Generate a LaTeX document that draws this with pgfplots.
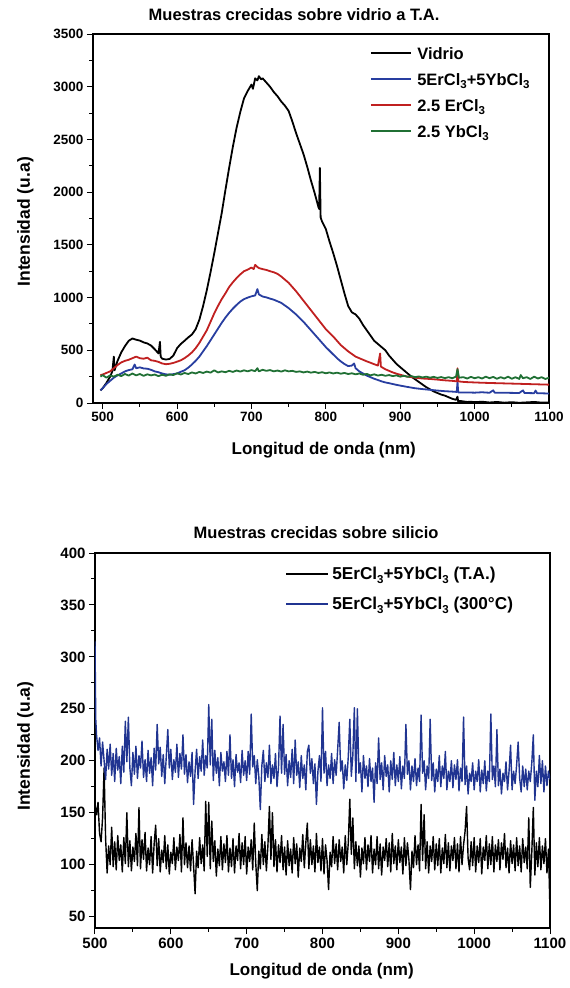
\documentclass[border=0pt]{standalone}
\usepackage{fontspec}
\setmainfont{Liberation Sans}
\usepackage{pgfplots}
\pgfplotsset{compat=1.18}
\definecolor{cblue}{RGB}{40,62,160}
\definecolor{cblue2}{RGB}{32,52,145}
\definecolor{cred}{RGB}{192,32,32}
\definecolor{cgreen}{RGB}{32,112,52}
\newcommand{\sub}[1]{\raisebox{-3.5pt}{\fontsize{11.5}{12}\selectfont #1}}
\pgfplotsset{
  base/.style={
    scale only axis,
    axis line style={line width=1.3pt},
    tick style={line width=1pt, black},
    tick align=outside,
    xtick pos=lower, ytick pos=left,
    major tick length=6pt, minor tick length=3.5pt,
    minor x tick num=1, minor y tick num=1,
    /pgf/number format/assume math mode=true,
    /pgf/number format/1000 sep={},
    legend cell align=left,
    no markers,
    every axis plot/.append style={line join=round},
  },
  legA/.style={legend image code/.code={\draw[##1] (0pt,0pt) -- (40pt,0pt);}},
  legB/.style={legend image code/.code={\draw[##1] (0pt,0pt) -- (42pt,0pt);}},
}
\begin{document}
\begin{tikzpicture}
\useasboundingbox (-93pt,403pt) rectangle (477pt,-585pt);
% ---------------- top axis ----------------
\begin{axis}[base, legA,
  at={(0pt,0pt)}, anchor=south west,
  width=456pt, height=369pt,
  xmin=487, xmax=1100, ymin=0, ymax=3500,
  xtick={500,600,...,1100}, ytick={0,500,...,3500},
  tick label style={font=\bfseries\fontsize{13.5}{16}\selectfont},
  title={Muestras crecidas sobre vidrio a T.A.},
  title style={at={([yshift=8pt]axis description cs:0.441,1)}, anchor=base, font=\bfseries\fontsize{16.5}{18}\selectfont},
  xlabel={Longitud de onda (nm)},
  xlabel style={at={([yshift=-51pt]axis description cs:0.506,0)}, anchor=base, font=\bfseries\fontsize{17}{19}\selectfont},
  ylabel={Intensidad (u.a)},
  ylabel style={at={([xshift=-63pt]axis description cs:0,0.491)}, anchor=base, font=\bfseries\fontsize{17.5}{19}\selectfont},
  legend style={draw=none, fill=none, inner sep=0pt, at={(0.607,0.9715)}, anchor=north west,
    font=\bfseries\fontsize{16.5}{18}\selectfont, row sep=9pt, column sep=4pt,
    nodes={inner sep=1.5pt, text height=13pt, text depth=1pt}},
]
\addplot[black, line width=1.8pt] coordinates {(497,120)(500,140)(505,190)(510,250)(513,300)(515,440)(516,310)(520,400)(525,480)(530,540)(535,590)(540,612)(545,600)(550,592)(555,575)(560,565)(565,545)(570,510)(575,470)(577,580)(578,440)(580,420)(585,412)(590,418)(595,450)(600,520)(605,560)(610,590)(615,622)(620,650)(625,700)(630,790)(635,920)(640,1070)(645,1240)(650,1420)(655,1610)(660,1800)(665,2020)(670,2230)(675,2430)(680,2610)(685,2760)(690,2890)(695,2960)(700,3020)(702,2980)(705,3080)(708,3060)(710,3100)(713,3070)(715,3080)(720,3040)(725,3000)(730,2950)(735,2910)(740,2860)(745,2820)(750,2770)(755,2670)(760,2560)(765,2460)(770,2360)(775,2240)(780,2110)(785,1990)(790,1860)(791,1840)(792,2230)(793,1760)(795,1720)(800,1650)(805,1530)(810,1420)(815,1300)(820,1170)(825,1040)(830,920)(835,860)(840,840)(845,800)(850,740)(855,690)(860,640)(865,590)(870,560)(875,530)(880,500)(885,450)(890,410)(895,370)(900,340)(905,310)(910,280)(915,250)(920,225)(925,200)(930,175)(935,150)(940,130)(945,110)(950,95)(955,80)(960,70)(965,55)(970,40)(975,30)(977,60)(978,10)(980,20)(985,15)(990,10)(995,12)(1000,8)(1010,12)(1020,5)(1030,10)(1040,3)(1050,8)(1060,2)(1070,6)(1080,10)(1090,4)(1100,5)};
\addlegendentry{Vidrio}
\addplot[cblue, line width=1.8pt] coordinates {(497,120)(500,140)(505,180)(510,210)(515,240)(520,262)(525,280)(530,300)(535,312)(540,320)(543,365)(545,330)(550,338)(555,328)(560,325)(565,315)(570,300)(575,292)(580,280)(585,272)(590,268)(595,274)(600,280)(605,296)(610,310)(615,335)(620,365)(625,400)(630,440)(635,490)(640,540)(645,595)(650,650)(655,705)(660,760)(665,810)(670,855)(675,895)(680,930)(685,962)(690,985)(695,1000)(700,1012)(705,1020)(708,1080)(710,1030)(715,1010)(720,1002)(725,990)(730,980)(735,965)(740,950)(745,925)(750,900)(755,870)(760,840)(765,805)(770,770)(775,730)(780,690)(785,650)(790,610)(795,570)(800,530)(805,495)(810,460)(815,425)(820,395)(825,370)(830,350)(835,355)(838,375)(840,330)(845,300)(850,280)(855,260)(860,245)(865,230)(870,218)(875,205)(880,195)(885,188)(890,180)(895,172)(900,165)(910,152)(920,140)(930,132)(940,125)(950,118)(960,112)(970,108)(976,105)(977,200)(978,100)(990,100)(1000,98)(1010,102)(1020,97)(1025,120)(1027,98)(1040,97)(1050,96)(1060,95)(1065,120)(1067,95)(1080,93)(1082,118)(1084,92)(1090,92)(1100,90)};
\addlegendentry{5ErCl\sub{3}+5YbCl\sub{3}}
\addplot[cred, line width=1.8pt] coordinates {(497,265)(500,270)(505,285)(510,300)(515,330)(520,360)(525,385)(530,400)(535,410)(540,425)(545,440)(550,425)(555,420)(560,430)(565,405)(570,400)(575,390)(580,375)(585,368)(590,372)(595,380)(600,392)(605,405)(610,425)(615,450)(620,480)(625,520)(630,570)(635,630)(640,690)(645,770)(650,850)(655,920)(660,985)(665,1040)(670,1100)(675,1145)(680,1185)(685,1220)(690,1250)(695,1265)(700,1285)(703,1270)(705,1310)(708,1290)(710,1280)(715,1270)(720,1262)(725,1250)(730,1240)(735,1225)(740,1200)(745,1170)(750,1140)(755,1100)(760,1060)(765,1015)(770,970)(775,925)(780,880)(785,835)(790,790)(795,745)(800,700)(805,665)(810,630)(815,590)(820,550)(825,520)(830,490)(835,465)(840,440)(845,425)(850,410)(855,395)(860,382)(865,368)(870,355)(873,470)(874,345)(880,320)(885,305)(890,290)(895,278)(900,268)(905,258)(910,250)(915,245)(920,240)(930,232)(940,228)(950,222)(960,215)(970,210)(976,205)(977,330)(978,205)(985,200)(990,198)(1000,195)(1010,192)(1020,190)(1030,188)(1040,186)(1050,184)(1060,182)(1070,180)(1080,178)(1090,176)(1100,174)};
\addlegendentry{2.5 ErCl\sub{3}}
\addplot[cgreen, line width=1.8pt] coordinates {(497,250)(500,265)(505,240)(510,262)(515,250)(520,268)(525,255)(530,275)(535,260)(540,280)(545,262)(550,275)(555,258)(560,272)(565,262)(570,270)(575,255)(580,268)(585,258)(590,272)(595,265)(600,282)(605,270)(610,285)(615,275)(620,290)(625,280)(630,295)(635,285)(640,298)(645,288)(650,310)(655,290)(660,300)(665,292)(670,305)(675,295)(680,308)(685,298)(690,310)(695,300)(700,312)(705,302)(708,330)(710,300)(715,315)(720,305)(725,312)(730,300)(735,308)(740,298)(745,310)(750,300)(755,305)(760,295)(765,300)(770,290)(775,298)(780,288)(785,295)(790,285)(795,292)(800,282)(805,290)(810,280)(815,288)(820,278)(825,285)(830,275)(835,282)(840,272)(845,280)(850,268)(855,276)(860,262)(865,272)(870,260)(875,268)(880,258)(885,265)(890,255)(895,262)(900,250)(905,258)(910,248)(915,255)(920,245)(925,252)(930,242)(935,250)(940,240)(945,248)(950,238)(955,246)(960,236)(965,245)(970,235)(975,250)(977,320)(979,240)(985,245)(990,232)(995,248)(1000,235)(1005,245)(1010,232)(1015,250)(1020,235)(1025,248)(1030,230)(1035,245)(1040,232)(1045,250)(1050,230)(1055,245)(1060,228)(1062,265)(1065,235)(1070,245)(1075,228)(1080,250)(1085,232)(1090,245)(1095,228)(1100,240)};
\addlegendentry{2.5 YbCl\sub{3}}
\end{axis}
% ---------------- bottom axis ----------------
\begin{axis}[base, legB,
  at={(2pt,-525pt)}, anchor=south west,
  width=455pt, height=375pt,
  xmin=500, xmax=1100, ymin=39, ymax=400,
  xtick={500,600,...,1100}, ytick={50,100,...,400},
  tick label style={font=\bfseries\fontsize{15}{17}\selectfont},
  title={Muestras crecidas sobre silicio},
  title style={at={([yshift=9pt]axis description cs:0.486,1)}, anchor=base, font=\bfseries\fontsize{16.5}{18}\selectfont},
  xlabel={Longitud de onda (nm)},
  xlabel style={at={([yshift=-47pt]axis description cs:0.498,0)}, anchor=base, font=\bfseries\fontsize{17}{19}\selectfont},
  ylabel={Intensidad (u.a)},
  ylabel style={at={([xshift=-65pt]axis description cs:0,0.485)}, anchor=base, font=\bfseries\fontsize{17.5}{19}\selectfont},
  legend style={draw=none, fill=none, inner sep=0pt, at={(0.418,0.9677)}, anchor=north west,
    font=\bfseries\fontsize{17.2}{19}\selectfont, row sep=13pt, column sep=2pt,
    nodes={inner sep=1.5pt, text height=13pt, text depth=1pt}},
]
\addplot[black, line width=1.4pt] coordinates {(500,158)(502,148)(504,160)(506,130)(508,122)(510,145)(512,193)(514,125)(516,92)(518,118)(520,100)(522,136)(524,98)(526,122)(528,95)(530,128)(532,104)(534,119)(536,93)(538,126)(540,101)(542,150)(544,98)(546,123)(548,94)(550,117)(552,103)(554,130)(556,99)(558,155)(560,96)(562,124)(564,105)(566,131)(568,94)(570,116)(572,100)(574,127)(576,92)(578,120)(580,138)(582,99)(584,125)(586,93)(588,114)(590,102)(592,128)(594,96)(596,119)(598,91)(600,112)(602,101)(604,126)(606,95)(608,117)(610,104)(612,129)(614,93)(616,145)(618,100)(620,121)(622,97)(624,118)(626,94)(628,124)(630,99)(632,72)(634,113)(636,97)(638,126)(640,101)(642,119)(644,94)(646,161)(648,108)(650,160)(652,96)(654,142)(656,103)(658,123)(660,89)(662,115)(664,99)(666,127)(668,95)(670,120)(672,102)(674,128)(676,93)(678,116)(680,98)(682,125)(684,92)(686,118)(688,104)(690,130)(692,96)(694,121)(696,100)(698,127)(700,91)(702,117)(704,103)(706,124)(708,95)(710,140)(712,101)(714,75)(716,113)(718,96)(720,129)(722,100)(724,122)(726,94)(728,118)(730,156)(732,105)(734,150)(736,98)(738,124)(740,93)(742,119)(744,102)(746,128)(748,95)(750,117)(752,90)(754,123)(756,99)(758,115)(760,92)(762,126)(764,101)(766,120)(768,88)(770,116)(772,103)(774,129)(776,97)(778,121)(780,140)(782,96)(784,124)(786,100)(788,118)(790,93)(792,130)(794,102)(796,117)(798,94)(800,125)(802,91)(804,119)(806,104)(808,76)(810,112)(812,98)(814,127)(816,101)(818,120)(820,95)(822,124)(824,103)(826,117)(828,92)(830,128)(832,100)(834,121)(836,163)(838,110)(840,145)(842,96)(844,122)(846,99)(848,118)(850,88)(852,116)(854,101)(856,126)(858,95)(860,119)(862,103)(864,128)(866,92)(868,115)(870,100)(872,127)(874,96)(876,120)(878,90)(880,117)(882,104)(884,125)(886,98)(888,121)(890,93)(892,130)(894,101)(896,118)(898,95)(900,124)(902,102)(904,117)(906,91)(908,126)(910,99)(912,121)(914,104)(916,76)(918,113)(920,97)(922,128)(924,100)(926,119)(928,94)(930,158)(932,104)(934,148)(936,96)(938,122)(940,92)(942,118)(944,103)(946,127)(948,95)(950,120)(952,99)(954,125)(956,92)(958,116)(960,101)(962,129)(964,97)(966,121)(968,94)(970,118)(972,104)(974,126)(976,96)(978,120)(980,93)(982,127)(984,100)(986,119)(988,132)(990,156)(992,106)(994,95)(996,122)(998,99)(1000,126)(1002,93)(1004,118)(1006,102)(1008,125)(1010,91)(1012,117)(1014,104)(1016,128)(1018,96)(1020,120)(1022,100)(1024,127)(1026,93)(1028,119)(1030,103)(1032,124)(1034,95)(1036,121)(1038,105)(1040,130)(1042,97)(1044,116)(1046,92)(1048,123)(1050,101)(1052,119)(1054,94)(1056,126)(1058,99)(1060,118)(1062,93)(1064,125)(1066,102)(1068,117)(1070,96)(1072,145)(1074,78)(1076,112)(1078,155)(1080,90)(1082,121)(1084,98)(1086,126)(1088,95)(1090,118)(1092,101)(1094,125)(1096,92)(1098,115)(1100,55)};
\addlegendentry{5ErCl\sub{3}+5YbCl\sub{3} (T.A.)}
\addplot[cblue2, line width=1.4pt] coordinates {(500,315)(501,240)(502,225)(504,210)(506,222)(508,195)(510,218)(512,200)(514,182)(516,211)(518,192)(520,216)(522,186)(524,207)(526,180)(528,212)(530,191)(532,204)(534,178)(536,214)(538,189)(540,238)(542,199)(544,242)(546,193)(548,176)(550,208)(552,187)(554,214)(556,183)(558,205)(560,193)(562,219)(564,184)(566,201)(568,180)(570,210)(572,188)(574,203)(576,176)(578,212)(580,191)(582,235)(584,197)(586,213)(588,185)(590,206)(592,178)(594,204)(596,230)(598,193)(600,211)(602,182)(604,201)(606,189)(608,216)(610,184)(612,207)(614,192)(616,225)(618,187)(620,206)(622,179)(624,199)(626,185)(628,208)(630,158)(632,190)(634,211)(636,183)(638,204)(640,190)(642,220)(644,186)(646,205)(648,193)(650,254)(652,196)(654,240)(656,181)(658,210)(660,188)(662,203)(664,176)(666,208)(668,190)(670,199)(672,180)(674,209)(676,186)(678,225)(680,183)(682,201)(684,175)(686,206)(688,189)(690,198)(692,179)(694,210)(696,186)(698,200)(700,181)(702,209)(704,187)(706,245)(708,194)(710,205)(712,178)(714,201)(716,185)(718,153)(720,195)(722,210)(724,180)(726,198)(728,184)(730,215)(732,178)(734,196)(736,183)(738,207)(740,175)(742,194)(744,243)(746,188)(748,235)(750,187)(752,206)(754,176)(756,200)(758,184)(760,211)(762,178)(764,220)(766,186)(768,199)(770,174)(772,205)(774,183)(776,196)(778,172)(780,209)(782,215)(784,188)(786,202)(788,178)(790,197)(792,158)(794,190)(796,205)(798,180)(800,251)(802,188)(804,209)(806,176)(808,196)(810,183)(812,207)(814,178)(816,201)(818,186)(820,211)(822,237)(824,190)(826,200)(828,173)(830,196)(832,181)(834,204)(836,240)(838,185)(840,205)(842,251)(844,180)(846,250)(848,188)(850,198)(852,170)(854,205)(856,183)(858,195)(860,175)(862,202)(864,180)(866,193)(868,160)(870,198)(872,178)(874,222)(876,182)(878,198)(880,172)(882,205)(884,185)(886,196)(888,170)(890,200)(892,182)(894,208)(896,176)(898,196)(900,180)(902,204)(904,173)(906,195)(908,183)(910,235)(912,187)(914,200)(916,172)(918,195)(920,180)(922,202)(924,176)(926,193)(928,180)(930,244)(932,188)(934,200)(936,172)(938,195)(940,183)(942,240)(944,181)(946,198)(948,170)(950,192)(952,180)(954,205)(956,175)(958,195)(960,183)(962,209)(964,172)(966,190)(968,180)(970,200)(972,174)(974,196)(976,182)(978,201)(980,171)(982,193)(984,180)(986,242)(988,177)(990,195)(992,168)(994,188)(996,180)(998,198)(1000,172)(1002,190)(1004,180)(1006,201)(1008,170)(1010,191)(1012,178)(1014,200)(1016,171)(1018,190)(1020,180)(1022,245)(1024,182)(1026,195)(1028,175)(1030,230)(1032,176)(1034,192)(1036,168)(1038,188)(1040,180)(1042,199)(1044,172)(1046,190)(1048,215)(1050,172)(1052,190)(1054,178)(1056,196)(1058,218)(1060,183)(1062,170)(1064,195)(1066,175)(1068,192)(1070,172)(1072,190)(1074,180)(1076,198)(1078,225)(1080,162)(1082,190)(1084,175)(1086,205)(1088,178)(1090,200)(1092,170)(1094,195)(1096,176)(1098,190)(1100,182)};
\addlegendentry{5ErCl\sub{3}+5YbCl\sub{3} (300°C)}
\end{axis}
\end{tikzpicture}
\end{document}
